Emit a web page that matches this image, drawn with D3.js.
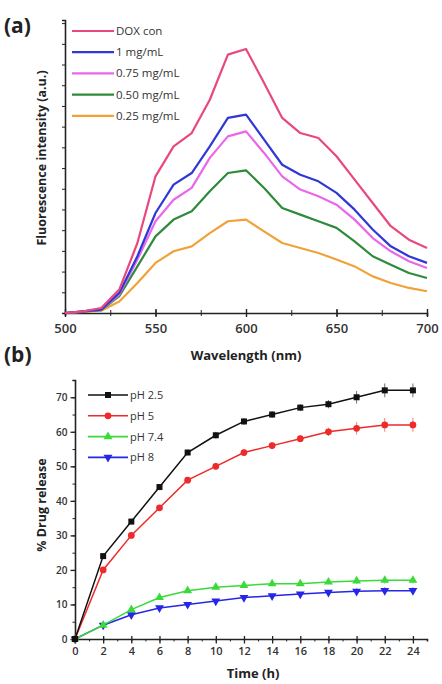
<!DOCTYPE html>
<html><head><meta charset="utf-8">
<script src="https://cdn.jsdelivr.net/npm/d3@7"></script>
<style>body{margin:0;background:#fff}svg{display:block}text{font-family:"Open Sans","Liberation Sans",Arial,sans-serif}</style>
</head><body>
<script>
// ---- Panel (a) data ----
const wavelengths = [500,510,520,530,540,550,560,570,580,590,600,610,620,630,640,650,660,670,680,690,700];
const seriesNamesA = ["DOX con","1 mg/mL","0.75 mg/mL","0.50 mg/mL","0.25 mg/mL"];
const doxCon   = [0,8,24,113,338,660,805,869,1030,1248,1275,1111,942,869,845,757,644,531,419,354,314];
const mg1      = [0,8,16,97,274,483,620,676,805,942,958,837,716,668,636,580,499,403,322,274,242];
const mg075    = [0,8,16,89,258,443,547,604,749,853,877,773,660,596,564,523,451,362,298,250,217];
const mg050    = [0,6,14,81,225,370,451,491,588,676,689,604,507,475,443,411,346,274,233,193,169];
const mg025    = [0,5,11,56,145,242,298,322,386,443,451,394,338,314,290,258,225,177,145,121,105];
const xTicksA = [500,550,600,650,700];

// ---- Panel (b) data ----
const times = [0,2,4,6,8,10,12,14,16,18,20,22,24];
const seriesNamesB = ["pH 2.5","pH 5","pH 7.4","pH 8"];
const ph25 = [0,24,34,44,54,59,63,65,67,68,70,72,72];
const ph5  = [0,20,30,38,46,50,54,56,58,60,61,62,62];
const ph74 = [0,4,8.5,12,14,15,15.5,16,16,16.5,16.8,17,17];
const ph8  = [0,4,7,9,10,11,12,12.5,13,13.5,13.8,14,14];
const errB = [0,0.5,0.8,0.8,0.8,1,1,1,1,1.2,1.8,2,2];
const xTicksB = [0,2,4,6,8,10,12,14,16,18,20,22,24];
const yTicksB = [0,10,20,30,40,50,60,70];

const svg = d3.select("body").append("svg").attr("width",442).attr("height",684);
const ink = "#222";

// ================= Panel (a) =================
const xA = d3.scaleLinear().domain([500,700]).range([65,427]);
const yA = d3.scaleLinear().domain([0,1415]).range([313,20]);
const colorsA = ["#e8487e","#2f38d6","#ea66ea","#2f8a3c","#f0a238"];
const dataA = [doxCon,mg1,mg075,mg050,mg025];

const gA = svg.append("g");
// x axis
gA.append("g").attr("transform","translate(0,313)")
  .call(d3.axisBottom(xA).tickValues(d3.range(500,701,25)).tickSize(3).tickFormat(""))
  .call(g=>{g.select(".domain").attr("stroke",ink).attr("stroke-width",1.6);g.selectAll("line").attr("stroke",ink).attr("y1",-3);});
gA.append("g").attr("transform","translate(0,313)")
  .call(d3.axisBottom(xA).tickValues(xTicksA).tickSize(4).tickPadding(7).tickFormat(d3.format("d")))
  .call(g=>{g.select(".domain").remove();g.selectAll("line").attr("stroke",ink).attr("stroke-width",1.4).attr("y1",-4);
    g.selectAll("text").attr("fill","#333").attr("font-size",13).attr("font-weight",600);});
// y axis
gA.append("g").attr("transform","translate(65,0)")
  .call(d3.axisLeft(yA).tickValues(d3.range(0,1401,100)).tickSize(3).tickFormat(""))
  .call(g=>{g.select(".domain").attr("stroke",ink).attr("stroke-width",1.6);g.selectAll("line").attr("stroke",ink);});
gA.append("text").attr("transform","translate(46,158) rotate(-90)").attr("text-anchor","middle")
  .attr("font-size",12.5).attr("font-weight",700).attr("fill","#222").text("Fluorescence intensity (a.u.)");
gA.append("text").attr("x",246).attr("y",360).attr("text-anchor","middle")
  .attr("font-size",13).attr("font-weight",700).attr("fill","#222").text("Wavelength (nm)");
gA.append("text").attr("x",4).attr("y",33).attr("font-size",21).attr("font-weight",700).attr("fill","#222").text("(a)");

const lineA = d3.line().x((d,i)=>xA(wavelengths[i])).y(d=>yA(d));
dataA.slice().reverse().forEach((arr,k)=>{
  const i = dataA.length-1-k;
  gA.append("path").datum(arr).attr("d",lineA).attr("fill","none")
    .attr("stroke",colorsA[i]).attr("stroke-width",2.2).attr("stroke-linejoin","round");
});
// legend a
seriesNamesA.forEach((n,i)=>{
  const y = 31 + i*21.2;
  gA.append("line").attr("x1",72).attr("x2",114).attr("y1",y).attr("y2",y).attr("stroke",colorsA[i]).attr("stroke-width",2.2);
  gA.append("text").attr("x",116).attr("y",y+4).attr("font-size",11.5).attr("fill","#333").text(n);
});

// ================= Panel (b) =================
const xB = d3.scaleLinear().domain([0,25]).range([75,427]);
const yB = d3.scaleLinear().domain([0,75]).range([639,380]);
const colorsB = ["#111111","#ee2a2a","#3ada3a","#2626e8"];
const symbolsB = [d3.symbolSquare,d3.symbolCircle,d3.symbolTriangle,d3.symbolTriangle];
const dataB = [ph25,ph5,ph74,ph8];
const gB = svg.append("g");

gB.append("g").attr("transform","translate(0,639)")
  .call(d3.axisBottom(xB).tickValues(d3.range(0,25,1)).tickSize(2.5).tickFormat(""))
  .call(g=>{g.select(".domain").attr("stroke",ink).attr("stroke-width",1.6);g.selectAll("line").attr("stroke",ink);});
gB.append("g").attr("transform","translate(0,639)")
  .call(d3.axisBottom(xB).tickValues(xTicksB).tickSize(4.5).tickPadding(4).tickFormat(d3.format("d")))
  .call(g=>{g.select(".domain").remove();g.selectAll("line").attr("stroke",ink).attr("stroke-width",1.3).attr("y1",-3);
    g.selectAll("text").attr("fill","#333").attr("font-size",11).attr("font-weight",600);});
gB.append("g").attr("transform","translate(75,0)")
  .call(d3.axisLeft(yB).tickValues(d3.range(0,76,5)).tickSize(2.5).tickFormat(""))
  .call(g=>{g.select(".domain").attr("stroke",ink).attr("stroke-width",1.6);g.selectAll("line").attr("stroke",ink);});
gB.append("g").attr("transform","translate(75,0)")
  .call(d3.axisLeft(yB).tickValues(yTicksB).tickSize(4.5).tickPadding(3).tickFormat(d3.format("d")))
  .call(g=>{g.select(".domain").remove();g.selectAll("line").attr("stroke",ink).attr("stroke-width",1.3);
    g.selectAll("text").attr("fill","#333").attr("font-size",10).attr("font-weight",600);});
gB.append("text").attr("transform","translate(46,505) rotate(-90)").attr("text-anchor","middle")
  .attr("font-size",12.5).attr("font-weight",700).attr("fill","#222").text("% Drug release");
gB.append("text").attr("x",253).attr("y",678).attr("text-anchor","middle")
  .attr("font-size",13).attr("font-weight",700).attr("fill","#222").text("Time (h)");
gB.append("text").attr("x",4).attr("y",362).attr("font-size",21).attr("font-weight",700).attr("fill","#222").text("(b)");

const lineB = d3.line().x((d,i)=>xB(times[i])).y(d=>yB(d));
function marker(g,i,x,y){
  const rot = i===3 ? 180 : 0;
  g.append("path").attr("d",d3.symbol().type(symbolsB[i]).size(i>=2?34:36)())
   .attr("transform",`translate(${x},${y}) rotate(${rot})`).attr("fill",colorsB[i]);
}
dataB.slice().reverse().forEach((arr,k)=>{
  const i = dataB.length-1-k;
  const g = gB.append("g");
  arr.forEach((v,j)=>{
    const e = errB[j]*(i<2?1:0.5);
    if(e>0.4){
      g.append("line").attr("x1",xB(times[j])).attr("x2",xB(times[j])).attr("y1",yB(v-e)).attr("y2",yB(v+e))
        .attr("stroke",colorsB[i]).attr("stroke-width",1).attr("opacity",0.6);
    }
  });
  g.append("path").datum(arr).attr("d",lineB).attr("fill","none").attr("stroke",colorsB[i]).attr("stroke-width",1.5);
  arr.forEach((v,j)=>marker(g,i,xB(times[j]),yB(v)));
});
seriesNamesB.forEach((n,i)=>{
  const y = 395 + i*20.8;
  gB.append("line").attr("x1",88).attr("x2",128).attr("y1",y).attr("y2",y).attr("stroke",colorsB[i]).attr("stroke-width",1.6);
  marker(gB,i,108,y);
  gB.append("text").attr("x",130).attr("y",y+4).attr("font-size",11).attr("fill","#333").text(n);
});
</script>
</body></html>
